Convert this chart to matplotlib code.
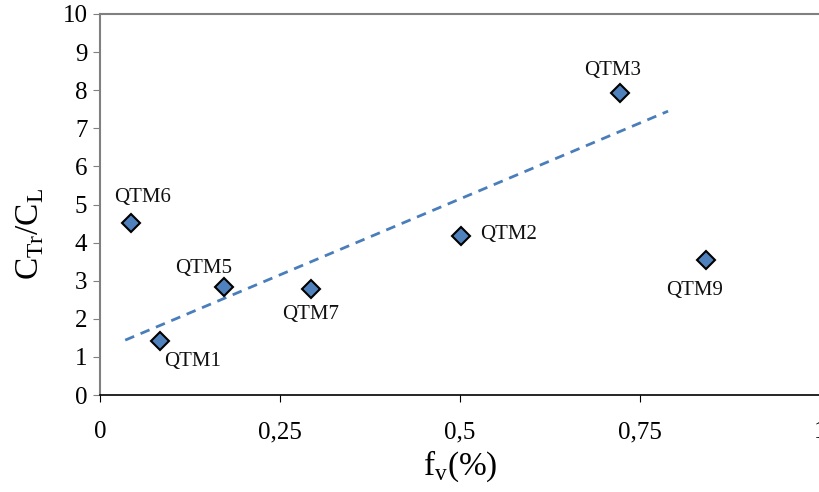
import matplotlib
matplotlib.use("Agg")
import matplotlib.pyplot as plt

# dados
nomes = ["QTM6", "QTM1", "QTM5", "QTM7", "QTM2", "QTM3", "QTM9"]
fv = [0.043, 0.083, 0.172, 0.293, 0.501, 0.722, 0.842]
razao = [4.51, 1.42, 2.83, 2.78, 4.17, 7.93, 3.54]

# linha de tendência (extremos)
tend_x = [0.035, 0.789]
tend_y = [1.44, 7.45]

xticks = [0, 0.25, 0.5, 0.75, 1]
xtick_labels = ["0", "0,25", "0,5", "0,75", "1"]
yticks = list(range(0, 11))

plt.rcParams["font.family"] = "Liberation Serif"
plt.rcParams["mathtext.fontset"] = "custom"
plt.rcParams["mathtext.rm"] = "Liberation Serif"

fig = plt.figure(figsize=(8.2, 4.92), dpi=100)
ax = fig.add_axes([100 / 820, 1 - 395 / 492, 720 / 820, 381 / 492])

ax.plot(tend_x, tend_y, linestyle=(0, (3.5, 2.5)), color="#4A7EBB", linewidth=2, zorder=2)
ax.plot(fv, razao, linestyle="none", marker="D", markersize=9,
        markerfacecolor="#4F81BD", markeredgecolor="black", markeredgewidth=1.5, zorder=3)

# posição dos rótulos (deslocamento em pixels)
offsets = {
    "QTM6": (12, 26, "center"),
    "QTM1": (33, -21, "center"),
    "QTM5": (-20, 19, "center"),
    "QTM7": (0, -25, "center"),
    "QTM2": (19, 2, "left"),
    "QTM3": (-7, 22, "center"),
    "QTM9": (-12, -30, "center"),
}
for nome, x, y in zip(nomes, fv, razao):
    dx, dy, ha = offsets[nome]
    ax.annotate(nome, (x, y), xytext=(dx, dy), textcoords="offset pixels",
                ha=ha, va="center", fontsize=15, color="#111111")

ax.set_xlim(0, 1)
ax.set_ylim(0, 10)
ax.set_xticks(xticks)
ax.set_xticklabels(xtick_labels)
ax.set_yticks(yticks)
ax.tick_params(axis="both", labelsize=18, direction="out", length=5)
ax.tick_params(axis="y", color="#808080", pad=4)
ax.tick_params(axis="x", color="black", pad=14)

ax.spines["right"].set_visible(False)
ax.spines["top"].set_color("#808080")
ax.spines["top"].set_linewidth(1.5)
ax.spines["left"].set_color("#808080")
ax.spines["left"].set_linewidth(1.5)
ax.spines["bottom"].set_color("black")
ax.spines["bottom"].set_linewidth(1.2)

ax.set_xlabel(r"f$_{\rm v}$(%)", fontsize=24, labelpad=4)
ax.set_ylabel(r"C$_{\rm Tr}$/C$_{\rm L}$", fontsize=24)
ax.yaxis.set_label_coords((46 - 100) / 720, (395 - 234) / 381)

plt.savefig("out.png", dpi=100)
